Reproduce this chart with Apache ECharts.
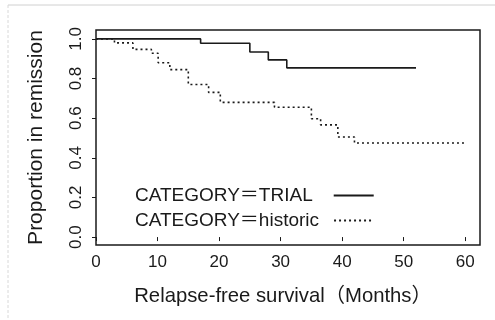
<!DOCTYPE html>
<html>
<head>
<meta charset="utf-8">
<script src="https://cdn.jsdelivr.net/npm/echarts@6/dist/echarts.min.js"></script>
<style>
  html, body { margin: 0; padding: 0; background: #fff; }
  #main { width: 495px; height: 320px; }
</style>
</head>
<body>
<div id="main"></div>
<script>
  // Kaplan-Meier step data
  var trialTime = [0, 17, 25, 28, 31, 52];
  var trialSurv = [1.0, 0.978, 0.934, 0.894, 0.854, 0.854];
  var histTime = [0, 3, 6, 9, 10.1, 12, 15, 18.3, 20.2, 29, 35, 36.5, 39.3, 42, 60];
  var histSurv = [1.0, 0.98, 0.947, 0.928, 0.88, 0.845, 0.77, 0.73, 0.68, 0.655, 0.597, 0.566, 0.505, 0.475, 0.475];
  var xTicks = [0, 10, 20, 30, 40, 50, 60];
  var yTicks = [0, 0.2, 0.4, 0.6, 0.8, 1.0];
  var seriesNames = ['CATEGORY＝TRIAL', 'CATEGORY＝historic'];

  function pairs(xs, ys) {
    var out = [];
    for (var i = 0; i < xs.length; i++) out.push([xs[i], ys[i]]);
    return out;
  }

  var font = '"Liberation Sans", "Noto Sans CJK JP", sans-serif';
  var ink = '#1a1a1a';
  var chart = echarts.init(document.getElementById('main'));

  // one legend per entry so both text columns start at the same x
  function legendFor(name, top, gapRight) {
    return {
      orient: 'vertical', left: 135, top: top, padding: 0,
      align: 'right', itemWidth: 40, itemHeight: 14,
      itemStyle: { opacity: 0 },
      textStyle: { fontFamily: font, fontSize: 19, lineHeight: 19, color: ink, padding: [0, gapRight, 0, 0] },
      data: [name]
    };
  }

  var option = {
    backgroundColor: '#fff',
    animation: false,
    grid: {
      left: 96, top: 30, right: 15, bottom: 75,
      show: true, borderColor: ink, borderWidth: 1.5, backgroundColor: 'transparent'
    },
    xAxis: {
      type: 'value', min: 0, max: 62.4,
      name: 'Relapse-free survival（Months）',
      nameLocation: 'middle', nameGap: 41,
      nameTextStyle: { fontFamily: font, fontSize: 20.3, color: ink, padding: [0, 10, 0, 0] },
      axisLine: { show: false },
      splitLine: { show: false },
      axisTick: { show: true, length: 4, lineStyle: { color: ink }, customValues: xTicks },
      axisLabel: { fontFamily: font, fontSize: 17, color: ink, margin: 9, customValues: xTicks }
    },
    yAxis: {
      type: 'value', min: -0.04, max: 1.045,
      name: 'Proportion in remission',
      nameLocation: 'middle', nameGap: 49,
      nameTextStyle: { fontFamily: font, fontSize: 21, color: ink },
      axisLine: { show: false, onZero: false },
      splitLine: { show: false },
      axisTick: { show: true, length: 4, lineStyle: { color: ink }, customValues: yTicks },
      axisLabel: {
        fontFamily: font, fontSize: 17, color: ink, rotate: 90, margin: 11,
        customValues: yTicks,
        formatter: function (v) { return v.toFixed(1); }
      }
    },
    legend: [
      legendFor(seriesNames[0], 186, 16),
      legendFor(seriesNames[1], 211, 10)
    ],
    series: [
      {
        name: seriesNames[0], type: 'line', step: 'end', symbol: 'none',
        lineStyle: { color: ink, width: 1.6 }, itemStyle: { color: ink },
        data: pairs(trialTime, trialSurv)
      },
      {
        name: seriesNames[1], type: 'line', step: 'end', symbol: 'none',
        lineStyle: { color: ink, width: 1.6, type: [2, 3] }, itemStyle: { color: ink },
        data: pairs(histTime, histSurv)
      }
    ],
    graphic: [
      { type: 'line', shape: { x1: 8, y1: 5, x2: 495, y2: 5 }, style: { stroke: '#d0d0d0', lineWidth: 1 } },
      { type: 'line', shape: { x1: 8, y1: 5, x2: 8, y2: 320 }, style: { stroke: '#d8d8d8', lineWidth: 1, lineDash: [3, 2] } }
    ]
  };

  chart.setOption(option);
</script>
</body>
</html>
